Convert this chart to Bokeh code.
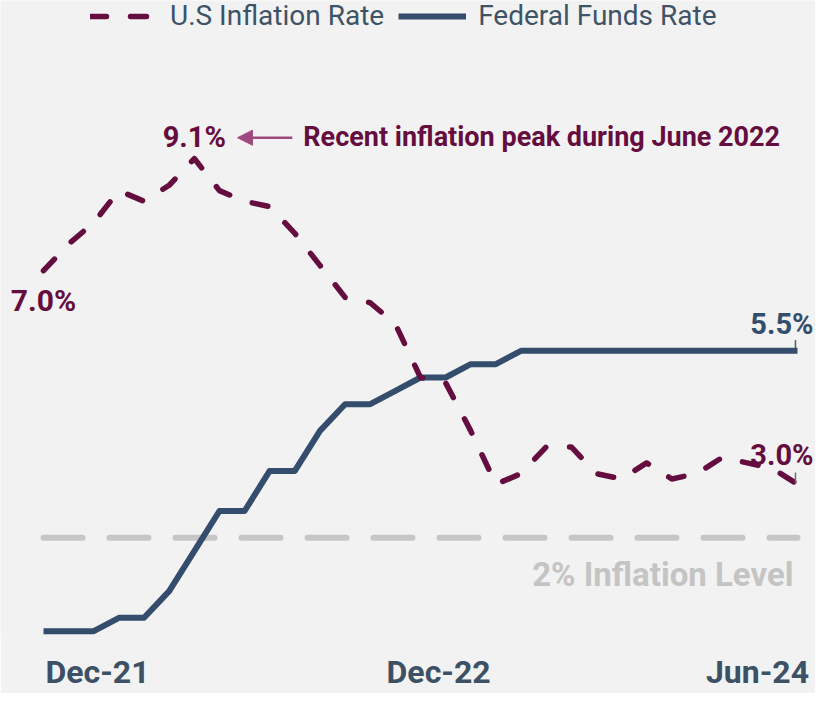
from bokeh.plotting import figure
from bokeh.models import Range1d, Legend, LegendItem, Label, Arrow, NormalHead, FixedTicker
from bokeh.embed import file_html
from bokeh.resources import INLINE

# ---- data ----
months = ["Dec-21", "Jan-22", "Feb-22", "Mar-22", "Apr-22", "May-22", "Jun-22", "Jul-22",
          "Aug-22", "Sep-22", "Oct-22", "Nov-22", "Dec-22", "Jan-23", "Feb-23", "Mar-23",
          "Apr-23", "May-23", "Jun-23", "Jul-23", "Aug-23", "Sep-23", "Oct-23", "Nov-23",
          "Dec-23", "Jan-24", "Feb-24", "Mar-24", "Apr-24", "May-24", "Jun-24"]
inflation = [7.0, 7.5, 7.9, 8.5, 8.3, 8.6, 9.1, 8.5, 8.3, 8.2, 7.7, 7.1, 6.5, 6.4, 6.0, 5.0,
             4.9, 4.0, 3.0, 3.2, 3.7, 3.7, 3.2, 3.1, 3.4, 3.1, 3.2, 3.5, 3.4, 3.3, 3.0]
fed_funds = [0.25, 0.25, 0.25, 0.5, 0.5, 1.0, 1.75, 2.5, 2.5, 3.25, 3.25, 4.0, 4.5, 4.5, 4.75, 5.0,
             5.0, 5.25, 5.25, 5.5, 5.5, 5.5, 5.5, 5.5, 5.5, 5.5, 5.5, 5.5, 5.5, 5.5, 5.5]
inflation_target = 2.0
tick_labels = ["Dec-21", "Dec-22", "Jun-24"]
tick_positions = [2.15, 15.72, 28.41]
peak_note = "Recent inflation peak during June 2022"
target_note = "2% Inflation Level"

x = list(range(len(months)))

# ---- style ----
BG = "#f2f2f2"
MAROON = "#650d3f"
NAVY = "#344d6d"
GRAY = "#c6c6c6"
AXIS_TXT = "#3d5166"
ARROW = "#9e4a7e"
FONT = "Roboto"

p = figure(width=815, height=693, output_backend="svg", toolbar_location=None,
           x_range=Range1d(-1.711, 30.717), y_range=Range1d(0.112, 12.06),
           background_fill_color=BG, border_fill_color=BG, outline_line_color=None,
           min_border_left=0, min_border_right=0, min_border_top=0, min_border_bottom=46)
p.grid.visible = False
p.yaxis.visible = False

xa = p.xaxis[0]
xa.ticker = FixedTicker(ticks=tick_positions)
xa.major_label_overrides = {t: l for t, l in zip(tick_positions, tick_labels)}
xa.axis_line_color = None
xa.major_tick_line_color = None
xa.minor_tick_line_color = None
xa.major_label_standoff = 8
xa.major_label_text_font = FONT
xa.major_label_text_font_size = "32px"
xa.major_label_text_font_style = "bold"
xa.major_label_text_color = AXIS_TXT

# 2% level line
p.line([x[0], x[-1]], [inflation_target, inflation_target], line_color=GRAY, line_width=6,
       line_dash="39 27", line_cap="round")

# series
r_fed = p.line(x, fed_funds, line_color=NAVY, line_width=6, line_join="round", line_cap="butt")
r_inf = p.line(x, inflation, line_color=MAROON, line_width=5.5, line_dash="16 24",
               line_cap="round", line_join="round")

# end ticks
p.segment(x0=[x[-1] - 0.08], y0=[fed_funds[-1] + 0.04], x1=[x[-1] - 0.08], y1=[fed_funds[-1] + 0.2],
          line_color="#4a5a70", line_width=1.5)
p.segment(x0=[x[-1] - 0.08], y0=[inflation[-1] + 0.02], x1=[x[-1] - 0.08], y1=[inflation[-1] + 0.22],
          line_color="#6a6f7c", line_width=1.5)

# legend
legend = Legend(items=[LegendItem(label="U.S Inflation Rate", renderers=[r_inf]),
                       LegendItem(label="Federal Funds Rate", renderers=[r_fed])],
                orientation="horizontal", location=(90, 606),
                glyph_width=68, glyph_height=20, label_standoff=12, spacing=14,
                padding=0, margin=0, background_fill_alpha=0, border_line_alpha=0,
                label_text_font=FONT, label_text_font_size="28px", label_text_color="#3e5366")
p.add_layout(legend, "center")

peak_i = inflation.index(max(inflation))
peak = inflation[peak_i]


def lab(xv, yv, text, color, size, align="center", xo=0, yo=0, style="bold"):
    p.add_layout(Label(x=xv, y=yv, text=text, text_color=color, text_font=FONT,
                       text_font_size=size, text_font_style=style, text_align=align,
                       text_baseline="middle", x_offset=xo, y_offset=yo))


lab(peak_i, peak, f"{peak:.1f}%", MAROON, "29px", yo=22)
lab(peak_i, peak, peak_note, MAROON, "27px", align="left", xo=109, yo=22)
lab(x[0], inflation[0], f"{inflation[0]:.1f}%", MAROON, "30px", yo=-30)
lab(x[-1], fed_funds[-1], f"{fed_funds[-1]:.1f}%", NAVY, "29px", align="right", xo=16, yo=27)
lab(x[-1], inflation[-1], f"{inflation[-1]:.1f}%", MAROON, "29px", align="right", xo=16, yo=29)
lab(x[-1], inflation_target, target_note, "#c4c4c4", "33px", align="right", xo=-4, yo=-37)

p.add_layout(Arrow(x_start=peak_i + 3.9, y_start=peak + 0.39, x_end=peak_i + 1.72, y_end=peak + 0.39,
                   line_color=ARROW, line_width=2.5,
                   end=NormalHead(size=15, fill_color=ARROW, line_color=ARROW)))

open("out.html", "w").write(file_html(p, INLINE))
